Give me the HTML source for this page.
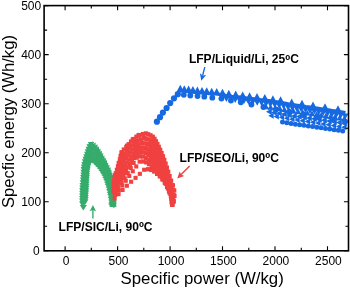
<!DOCTYPE html>
<html><head><meta charset="utf-8"><title>Ragone plot</title>
<style>
html,body{margin:0;padding:0;background:#fff;}
body{width:350px;height:288px;overflow:hidden;}
svg{display:block;}
text{font-family:"Liberation Sans",Arial,Helvetica,sans-serif;fill:#000;}
.t{font-size:12px;}
.l{font-size:16.8px;}
.b{font-size:12.05px;font-weight:bold;}
</style></head><body>
<svg width="350" height="288" viewBox="0 0 350 288">
<rect width="350" height="288" fill="#fff"/>
<g fill="#36ac6c"><path d="M82.2 206.8L85.3 201.3L79.1 201.3Z"/><path d="M82.2 204.2L85.3 198.6L79.1 198.6Z"/><path d="M82.2 201.6L85.3 196.0L79.1 196.0Z"/><path d="M82.2 199.0L85.3 193.4L79.1 193.4Z"/><path d="M82.2 196.3L85.3 190.7L79.1 190.7Z"/><path d="M82.3 193.7L85.4 188.1L79.2 188.1Z"/><path d="M82.4 191.1L85.5 185.5L79.3 185.5Z"/><path d="M82.6 188.4L85.7 182.9L79.5 182.9Z"/><path d="M82.8 185.8L85.9 180.2L79.7 180.2Z"/><path d="M83.0 183.2L86.1 177.6L79.9 177.6Z"/><path d="M83.2 180.6L86.3 175.0L80.1 175.0Z"/><path d="M83.4 177.9L86.5 172.4L80.3 172.4Z"/><path d="M83.5 175.3L86.6 169.7L80.4 169.7Z"/><path d="M83.7 172.7L86.8 167.1L80.6 167.1Z"/><path d="M83.9 170.1L87.0 164.5L80.8 164.5Z"/><path d="M84.4 167.5L87.5 161.9L81.3 161.9Z"/><path d="M84.9 164.9L88.0 159.3L81.8 159.3Z"/><path d="M85.6 162.4L88.7 156.8L82.5 156.8Z"/><path d="M86.3 159.8L89.4 154.3L83.2 154.3Z"/><path d="M87.1 157.3L90.2 151.7L84.0 151.7Z"/><path d="M87.8 154.8L90.9 149.2L84.7 149.2Z"/><path d="M88.6 152.3L91.7 146.7L85.5 146.7Z"/><path d="M89.5 149.8L92.6 144.2L86.4 144.2Z"/><path d="M91.0 147.6L94.1 142.1L87.9 142.1Z"/><path d="M87.7 144.3L93.2 141.2L93.2 147.4Z"/><path d="M90.0 145.5L95.6 142.4L95.6 148.6Z"/><path d="M91.9 147.3L97.5 144.2L97.5 150.4Z"/><path d="M93.5 149.5L99.0 146.4L99.0 152.6Z"/><path d="M94.9 151.7L100.5 148.6L100.5 154.8Z"/><path d="M96.3 153.9L101.9 150.8L101.9 157.0Z"/><path d="M97.6 156.2L103.2 153.1L103.2 159.3Z"/><path d="M98.9 158.5L104.5 155.4L104.5 161.6Z"/><path d="M100.2 160.8L105.8 157.7L105.8 163.9Z"/><path d="M101.5 163.2L107.0 160.1L107.0 166.3Z"/><path d="M102.7 165.5L108.2 162.4L108.2 168.6Z"/><path d="M103.9 167.9L109.4 164.8L109.4 171.0Z"/><path d="M105.0 170.3L110.6 167.2L110.6 173.4Z"/><path d="M105.9 172.8L111.5 169.7L111.5 175.9Z"/><path d="M106.8 175.3L112.4 172.2L112.4 178.4Z"/><path d="M107.6 177.8L113.1 174.7L113.1 180.9Z"/><path d="M108.3 180.3L113.8 177.2L113.8 183.4Z"/><path d="M108.8 182.9L114.4 179.8L114.4 186.0Z"/><path d="M109.3 185.5L114.9 182.4L114.9 188.6Z"/><path d="M109.6 188.2L115.2 185.1L115.2 191.3Z"/><path d="M109.9 190.8L115.5 187.7L115.5 193.9Z"/><path d="M110.2 193.4L115.8 190.3L115.8 196.5Z"/><path d="M110.4 196.1L115.9 193.0L115.9 199.2Z"/><path d="M110.5 198.7L116.1 195.6L116.1 201.8Z"/><path d="M110.6 201.4L116.1 198.3L116.1 204.5Z"/><path d="M110.7 204.0L116.2 200.9L116.2 207.1Z"/><path d="M83.0 206.3L86.1 200.8L79.9 200.8Z"/><path d="M83.0 203.8L86.1 198.2L79.9 198.2Z"/><path d="M83.0 201.3L86.1 195.7L79.9 195.7Z"/><path d="M83.1 198.7L86.2 193.2L80.0 193.2Z"/><path d="M83.1 196.2L86.2 190.6L80.0 190.6Z"/><path d="M83.2 193.7L86.3 188.1L80.1 188.1Z"/><path d="M83.4 191.1L86.5 185.5L80.3 185.5Z"/><path d="M83.5 188.6L86.6 183.0L80.4 183.0Z"/><path d="M83.7 186.1L86.8 180.5L80.6 180.5Z"/><path d="M83.9 183.5L87.0 178.0L80.8 178.0Z"/><path d="M84.1 181.0L87.2 175.4L81.0 175.4Z"/><path d="M84.2 178.5L87.3 172.9L81.1 172.9Z"/><path d="M84.4 175.9L87.5 170.4L81.3 170.4Z"/><path d="M84.6 173.4L87.7 167.8L81.5 167.8Z"/><path d="M84.8 170.9L87.9 165.3L81.7 165.3Z"/><path d="M85.2 168.4L88.3 162.8L82.1 162.8Z"/><path d="M85.8 165.9L88.9 160.3L82.7 160.3Z"/><path d="M86.5 163.5L89.6 157.9L83.4 157.9Z"/><path d="M87.2 161.0L90.3 155.4L84.1 155.4Z"/><path d="M87.9 158.6L91.0 153.0L84.8 153.0Z"/><path d="M88.6 156.2L91.7 150.6L85.5 150.6Z"/><path d="M89.5 153.8L92.6 148.2L86.4 148.2Z"/><path d="M90.9 151.6L94.0 146.1L87.8 146.1Z"/><path d="M90.9 145.0L94.0 150.5L87.8 150.5Z"/><path d="M93.3 146.1L96.4 151.6L90.2 151.6Z"/><path d="M95.3 147.9L98.4 153.5L92.2 153.5Z"/><path d="M97.0 150.1L100.1 155.7L93.9 155.7Z"/><path d="M98.5 152.3L101.6 157.9L95.4 157.9Z"/><path d="M100.0 154.6L103.1 160.2L96.9 160.2Z"/><path d="M101.4 156.9L104.5 162.5L98.3 162.5Z"/><path d="M102.8 159.3L105.9 164.8L99.7 164.8Z"/><path d="M104.1 161.7L107.2 167.2L101.0 167.2Z"/><path d="M105.4 164.1L108.5 169.7L102.3 169.7Z"/><path d="M106.5 166.5L109.6 172.1L103.4 172.1Z"/><path d="M107.7 169.0L110.8 174.6L104.6 174.6Z"/><path d="M108.7 171.5L111.8 177.1L105.6 177.1Z"/><path d="M109.5 174.1L112.6 179.7L106.4 179.7Z"/><path d="M110.3 176.7L113.4 182.3L107.2 182.3Z"/><path d="M111.0 179.3L114.1 184.9L107.9 184.9Z"/><path d="M111.6 182.0L114.7 187.6L108.5 187.6Z"/><path d="M112.1 184.7L115.2 190.2L109.0 190.2Z"/><path d="M112.5 187.3L115.6 192.9L109.4 192.9Z"/><path d="M112.8 190.0L115.9 195.6L109.7 195.6Z"/><path d="M113.1 192.8L116.2 198.3L110.0 198.3Z"/><path d="M113.3 195.5L116.4 201.0L110.2 201.0Z"/><path d="M113.4 198.2L116.5 203.8L110.3 203.8Z"/><path d="M113.5 200.9L116.6 206.5L110.4 206.5Z"/><path d="M83.8 205.8L86.8 200.3L80.7 200.3Z"/><path d="M83.8 203.4L86.9 197.8L80.7 197.8Z"/><path d="M83.9 201.0L87.0 195.4L80.8 195.4Z"/><path d="M84.0 198.5L87.1 193.0L80.9 193.0Z"/><path d="M84.1 196.1L87.2 190.5L81.0 190.5Z"/><path d="M84.2 193.7L87.3 188.1L81.1 188.1Z"/><path d="M84.3 191.2L87.4 185.7L81.2 185.7Z"/><path d="M84.5 188.8L87.6 183.2L81.4 183.2Z"/><path d="M84.6 186.4L87.7 180.8L81.5 180.8Z"/><path d="M84.8 184.0L87.9 178.4L81.7 178.4Z"/><path d="M84.9 181.5L88.0 175.9L81.8 175.9Z"/><path d="M85.1 179.1L88.2 173.5L82.0 173.5Z"/><path d="M85.2 176.7L88.3 171.1L82.1 171.1Z"/><path d="M85.4 174.2L88.5 168.7L82.3 168.7Z"/><path d="M85.7 171.8L88.8 166.2L82.6 166.2Z"/><path d="M86.1 169.4L89.2 163.8L83.0 163.8Z"/><path d="M86.7 167.0L89.8 161.5L83.6 161.5Z"/><path d="M87.3 164.7L90.4 159.1L84.2 159.1Z"/><path d="M87.9 162.3L91.0 156.8L84.8 156.8Z"/><path d="M88.6 160.0L91.7 154.4L85.5 154.4Z"/><path d="M89.5 157.7L92.6 152.2L86.4 152.2Z"/><path d="M90.8 155.6L93.8 150.1L87.7 150.1Z"/><path d="M87.4 152.3L93.0 149.2L93.0 155.4Z"/><path d="M89.9 153.3L95.5 150.2L95.5 156.4Z"/><path d="M91.9 155.0L97.5 151.9L97.5 158.1Z"/><path d="M93.6 157.1L99.2 154.0L99.2 160.2Z"/><path d="M95.2 159.2L100.8 156.1L100.8 162.3Z"/><path d="M96.8 161.4L102.3 158.3L102.3 164.5Z"/><path d="M98.2 163.7L103.8 160.6L103.8 166.8Z"/><path d="M99.6 166.0L105.2 162.9L105.2 169.1Z"/><path d="M100.9 168.4L106.4 165.3L106.4 171.5Z"/><path d="M102.1 170.8L107.6 167.7L107.6 173.9Z"/><path d="M103.2 173.2L108.8 170.1L108.8 176.3Z"/><path d="M104.2 175.7L109.8 172.6L109.8 178.8Z"/><path d="M105.1 178.2L110.7 175.1L110.7 181.3Z"/><path d="M105.9 180.7L111.5 177.6L111.5 183.8Z"/><path d="M106.7 183.3L112.3 180.2L112.3 186.4Z"/><path d="M107.3 185.9L112.9 182.8L112.9 189.0Z"/><path d="M107.9 188.5L113.5 185.4L113.5 191.6Z"/><path d="M108.4 191.2L114.0 188.1L114.0 194.3Z"/><path d="M108.8 193.8L114.3 190.7L114.3 196.9Z"/><path d="M109.1 196.5L114.7 193.4L114.7 199.6Z"/><path d="M109.3 199.1L114.9 196.0L114.9 202.2Z"/><path d="M109.5 201.8L115.1 198.7L115.1 204.9Z"/><path d="M109.7 204.5L115.2 201.4L115.2 207.6Z"/><path d="M84.5 205.3L87.6 199.8L81.4 199.8Z"/><path d="M84.6 203.0L87.7 197.4L81.5 197.4Z"/><path d="M84.8 200.7L87.9 195.1L81.7 195.1Z"/><path d="M84.9 198.4L88.0 192.8L81.8 192.8Z"/><path d="M85.0 196.1L88.1 190.5L81.9 190.5Z"/><path d="M85.1 193.7L88.2 188.2L82.0 188.2Z"/><path d="M85.3 191.4L88.4 185.8L82.2 185.8Z"/><path d="M85.4 189.1L88.5 183.5L82.3 183.5Z"/><path d="M85.5 186.8L88.6 181.2L82.4 181.2Z"/><path d="M85.6 184.5L88.7 178.9L82.5 178.9Z"/><path d="M85.8 182.1L88.9 176.6L82.7 176.6Z"/><path d="M85.9 179.8L89.0 174.2L82.8 174.2Z"/><path d="M86.1 177.5L89.2 171.9L83.0 171.9Z"/><path d="M86.3 175.2L89.4 169.6L83.2 169.6Z"/><path d="M86.5 172.9L89.6 167.3L83.4 167.3Z"/><path d="M86.9 170.6L90.0 165.0L83.8 165.0Z"/><path d="M87.4 168.3L90.5 162.7L84.3 162.7Z"/><path d="M88.0 166.1L91.1 160.5L84.9 160.5Z"/><path d="M88.7 163.8L91.8 158.3L85.6 158.3Z"/><path d="M89.5 161.7L92.6 156.1L86.4 156.1Z"/><path d="M90.6 159.6L93.7 154.1L87.5 154.1Z"/><path d="M90.6 153.0L93.7 158.5L87.5 158.5Z"/><path d="M93.1 153.8L96.2 159.4L90.0 159.4Z"/><path d="M95.2 155.4L98.3 161.0L92.1 161.0Z"/><path d="M97.0 157.4L100.1 163.0L93.9 163.0Z"/><path d="M98.6 159.4L101.7 165.0L95.5 165.0Z"/><path d="M100.2 161.6L103.3 167.1L97.1 167.1Z"/><path d="M101.7 163.7L104.8 169.3L98.6 169.3Z"/><path d="M103.0 166.0L106.1 171.6L99.9 171.6Z"/><path d="M104.3 168.3L107.4 173.9L101.2 173.9Z"/><path d="M105.4 170.7L108.5 176.3L102.3 176.3Z"/><path d="M106.5 173.1L109.6 178.7L103.4 178.7Z"/><path d="M107.5 175.6L110.6 181.2L104.4 181.2Z"/><path d="M108.3 178.1L111.4 183.7L105.2 183.7Z"/><path d="M109.0 180.6L112.1 186.2L105.9 186.2Z"/><path d="M109.7 183.2L112.8 188.7L106.6 188.7Z"/><path d="M110.3 185.7L113.4 191.3L107.2 191.3Z"/><path d="M110.9 188.3L114.0 193.9L107.8 193.9Z"/><path d="M111.3 190.9L114.4 196.5L108.2 196.5Z"/><path d="M111.7 193.5L114.8 199.1L108.6 199.1Z"/><path d="M112.1 196.1L115.2 201.7L109.0 201.7Z"/><path d="M112.3 198.8L115.4 204.3L109.2 204.3Z"/><path d="M112.5 201.4L115.6 207.0L109.4 207.0Z"/><path d="M85.3 204.8L88.4 199.3L82.2 199.3Z"/><path d="M85.5 202.7L88.6 197.1L82.4 197.1Z"/><path d="M85.6 200.5L88.7 194.9L82.5 194.9Z"/><path d="M85.8 198.3L88.9 192.7L82.7 192.7Z"/><path d="M86.0 196.1L89.1 190.5L82.9 190.5Z"/><path d="M86.1 193.9L89.2 188.3L83.0 188.3Z"/><path d="M86.2 191.7L89.3 186.1L83.1 186.1Z"/><path d="M86.3 189.5L89.4 183.9L83.2 183.9Z"/><path d="M86.4 187.3L89.5 181.7L83.3 181.7Z"/><path d="M86.5 185.1L89.6 179.5L83.4 179.5Z"/><path d="M86.6 182.9L89.7 177.3L83.5 177.3Z"/><path d="M86.8 180.7L89.9 175.1L83.7 175.1Z"/><path d="M86.9 178.5L90.0 172.9L83.8 172.9Z"/><path d="M87.1 176.3L90.2 170.7L84.0 170.7Z"/><path d="M87.3 174.1L90.4 168.5L84.2 168.5Z"/><path d="M87.7 171.9L90.8 166.4L84.6 166.4Z"/><path d="M88.1 169.8L91.2 164.2L85.0 164.2Z"/><path d="M88.7 167.7L91.8 162.1L85.6 162.1Z"/><path d="M89.5 165.6L92.6 160.0L86.4 160.0Z"/><path d="M90.5 163.6L93.6 158.1L87.4 158.1Z"/><path d="M87.2 160.3L92.7 157.2L92.7 163.4Z"/><path d="M89.6 161.1L95.2 158.0L95.2 164.2Z"/><path d="M91.8 162.5L97.3 159.4L97.3 165.6Z"/><path d="M93.6 164.4L99.2 161.3L99.2 167.5Z"/><path d="M95.3 166.3L100.9 163.2L100.9 169.4Z"/><path d="M96.9 168.3L102.5 165.2L102.5 171.4Z"/><path d="M98.4 170.5L104.0 167.4L104.0 173.6Z"/><path d="M99.8 172.7L105.4 169.6L105.4 175.8Z"/><path d="M101.0 175.0L106.6 171.9L106.6 178.1Z"/><path d="M102.1 177.3L107.7 174.2L107.7 180.4Z"/><path d="M103.1 179.7L108.6 176.6L108.6 182.8Z"/><path d="M104.0 182.2L109.5 179.1L109.5 185.3Z"/><path d="M104.7 184.6L110.3 181.5L110.3 187.7Z"/><path d="M105.4 187.1L111.0 184.0L111.0 190.2Z"/><path d="M106.0 189.7L111.6 186.6L111.6 192.8Z"/><path d="M106.6 192.2L112.2 189.1L112.2 195.3Z"/><path d="M107.1 194.7L112.7 191.6L112.7 197.8Z"/><path d="M107.6 197.3L113.1 194.2L113.1 200.4Z"/><path d="M108.0 199.9L113.6 196.8L113.6 203.0Z"/><path d="M108.4 202.4L113.9 199.3L113.9 205.5Z"/><path d="M108.7 205.0L114.2 201.9L114.2 208.1Z"/><path d="M79.8 205.0L86.9 205.0L83.3 210.5Z"/><path d="M108.1 204.0L114.4 200.5L114.4 207.5Z"/></g>
<g fill="#f04141"><rect x="112.5" y="196.4" width="4.1" height="4.1"/><rect x="116.5" y="192.1" width="4.1" height="4.1"/><rect x="120.5" y="187.9" width="4.1" height="4.1"/><rect x="124.8" y="183.7" width="4.1" height="4.1"/><rect x="129.1" y="179.7" width="4.1" height="4.1"/><rect x="133.5" y="175.8" width="4.1" height="4.1"/><rect x="137.8" y="171.8" width="4.1" height="4.1"/><rect x="142.1" y="167.7" width="4.1" height="4.1"/><rect x="146.0" y="167.1" width="4.3" height="4.3"/><rect x="149.1" y="167.8" width="4.3" height="4.3"/><rect x="152.1" y="169.4" width="4.3" height="4.3"/><rect x="155.0" y="171.7" width="4.3" height="4.3"/><rect x="157.8" y="174.3" width="4.3" height="4.3"/><rect x="160.5" y="177.4" width="4.3" height="4.3"/><rect x="163.1" y="180.9" width="4.3" height="4.3"/><rect x="165.5" y="184.9" width="4.3" height="4.3"/><rect x="167.6" y="189.4" width="4.3" height="4.3"/><rect x="169.1" y="194.4" width="4.3" height="4.3"/><rect x="169.7" y="200.0" width="4.3" height="4.3"/><rect x="113.2" y="192.9" width="4.1" height="4.1"/><rect x="116.7" y="188.2" width="4.1" height="4.1"/><rect x="120.2" y="183.4" width="4.1" height="4.1"/><rect x="123.7" y="178.7" width="4.1" height="4.1"/><rect x="127.2" y="173.9" width="4.1" height="4.1"/><rect x="130.7" y="169.2" width="4.1" height="4.1"/><rect x="134.2" y="164.4" width="4.1" height="4.1"/><rect x="137.6" y="159.6" width="4.1" height="4.1"/><rect x="141.1" y="159.3" width="4.3" height="4.3"/><rect x="144.1" y="160.2" width="4.3" height="4.3"/><rect x="146.9" y="162.0" width="4.3" height="4.3"/><rect x="149.6" y="164.2" width="4.3" height="4.3"/><rect x="152.3" y="166.8" width="4.3" height="4.3"/><rect x="155.0" y="169.6" width="4.3" height="4.3"/><rect x="157.7" y="172.8" width="4.3" height="4.3"/><rect x="160.2" y="176.4" width="4.3" height="4.3"/><rect x="162.6" y="180.3" width="4.3" height="4.3"/><rect x="164.9" y="184.6" width="4.3" height="4.3"/><rect x="166.9" y="189.3" width="4.3" height="4.3"/><rect x="168.8" y="194.3" width="4.3" height="4.3"/><rect x="169.6" y="200.0" width="4.3" height="4.3"/><rect x="113.0" y="190.9" width="4.1" height="4.1"/><rect x="116.2" y="186.1" width="4.1" height="4.1"/><rect x="119.5" y="181.1" width="4.1" height="4.1"/><rect x="122.7" y="176.2" width="4.1" height="4.1"/><rect x="125.7" y="171.1" width="4.1" height="4.1"/><rect x="128.7" y="166.0" width="4.1" height="4.1"/><rect x="131.6" y="160.9" width="4.1" height="4.1"/><rect x="134.5" y="155.7" width="4.1" height="4.1"/><rect x="137.8" y="154.3" width="4.3" height="4.3"/><rect x="140.9" y="154.4" width="4.3" height="4.3"/><rect x="143.9" y="155.8" width="4.3" height="4.3"/><rect x="146.7" y="157.9" width="4.3" height="4.3"/><rect x="149.4" y="160.3" width="4.3" height="4.3"/><rect x="152.0" y="163.0" width="4.3" height="4.3"/><rect x="154.5" y="166.1" width="4.3" height="4.3"/><rect x="156.9" y="169.6" width="4.3" height="4.3"/><rect x="159.2" y="173.3" width="4.3" height="4.3"/><rect x="161.5" y="177.3" width="4.3" height="4.3"/><rect x="163.8" y="181.6" width="4.3" height="4.3"/><rect x="165.8" y="186.3" width="4.3" height="4.3"/><rect x="167.7" y="191.3" width="4.3" height="4.3"/><rect x="169.2" y="196.6" width="4.3" height="4.3"/><rect x="170.0" y="202.4" width="4.3" height="4.3"/><rect x="112.6" y="190.5" width="4.3" height="4.3"/><rect x="114.0" y="187.2" width="4.3" height="4.3"/><rect x="115.6" y="183.9" width="4.3" height="4.3"/><rect x="117.3" y="180.7" width="4.3" height="4.3"/><rect x="119.0" y="177.6" width="4.3" height="4.3"/><rect x="120.7" y="174.4" width="4.3" height="4.3"/><rect x="122.3" y="171.2" width="4.3" height="4.3"/><rect x="123.9" y="167.9" width="4.3" height="4.3"/><rect x="125.7" y="164.8" width="4.3" height="4.3"/><rect x="127.7" y="161.9" width="4.3" height="4.3"/><rect x="129.7" y="158.8" width="4.3" height="4.3"/><rect x="131.7" y="155.9" width="4.3" height="4.3"/><rect x="134.0" y="153.0" width="4.3" height="4.3"/><rect x="136.4" y="150.4" width="4.3" height="4.3"/><rect x="136.7" y="150.2" width="4.3" height="4.3"/><rect x="139.0" y="150.0" width="4.3" height="4.3"/><rect x="141.6" y="150.1" width="4.3" height="4.3"/><rect x="144.0" y="151.1" width="4.3" height="4.3"/><rect x="146.3" y="152.7" width="4.3" height="4.3"/><rect x="148.5" y="154.8" width="4.3" height="4.3"/><rect x="150.7" y="157.1" width="4.3" height="4.3"/><rect x="152.8" y="159.6" width="4.3" height="4.3"/><rect x="154.9" y="162.4" width="4.3" height="4.3"/><rect x="156.9" y="165.5" width="4.3" height="4.3"/><rect x="158.9" y="169.0" width="4.3" height="4.3"/><rect x="160.8" y="172.6" width="4.3" height="4.3"/><rect x="162.8" y="176.5" width="4.3" height="4.3"/><rect x="164.7" y="180.7" width="4.3" height="4.3"/><rect x="166.6" y="185.2" width="4.3" height="4.3"/><rect x="168.3" y="190.1" width="4.3" height="4.3"/><rect x="169.6" y="195.4" width="4.3" height="4.3"/><rect x="170.2" y="201.1" width="4.3" height="4.3"/><rect x="112.3" y="190.0" width="4.3" height="4.3"/><rect x="113.3" y="186.6" width="4.3" height="4.3"/><rect x="114.4" y="183.2" width="4.3" height="4.3"/><rect x="115.7" y="179.8" width="4.3" height="4.3"/><rect x="117.2" y="176.5" width="4.3" height="4.3"/><rect x="118.7" y="173.3" width="4.3" height="4.3"/><rect x="120.2" y="170.0" width="4.3" height="4.3"/><rect x="121.6" y="166.7" width="4.3" height="4.3"/><rect x="123.0" y="163.3" width="4.3" height="4.3"/><rect x="124.9" y="160.3" width="4.3" height="4.3"/><rect x="127.0" y="157.4" width="4.3" height="4.3"/><rect x="129.1" y="154.5" width="4.3" height="4.3"/><rect x="131.3" y="151.7" width="4.3" height="4.3"/><rect x="133.7" y="149.0" width="4.3" height="4.3"/><rect x="136.6" y="146.7" width="4.3" height="4.3"/><rect x="138.5" y="145.5" width="4.3" height="4.3"/><rect x="140.8" y="145.6" width="4.3" height="4.3"/><rect x="143.3" y="145.9" width="4.3" height="4.3"/><rect x="145.7" y="147.1" width="4.3" height="4.3"/><rect x="147.8" y="149.0" width="4.3" height="4.3"/><rect x="149.8" y="151.1" width="4.3" height="4.3"/><rect x="151.8" y="153.6" width="4.3" height="4.3"/><rect x="153.7" y="156.2" width="4.3" height="4.3"/><rect x="155.6" y="159.1" width="4.3" height="4.3"/><rect x="157.5" y="162.2" width="4.3" height="4.3"/><rect x="159.3" y="165.6" width="4.3" height="4.3"/><rect x="161.1" y="169.3" width="4.3" height="4.3"/><rect x="162.8" y="173.2" width="4.3" height="4.3"/><rect x="164.6" y="177.3" width="4.3" height="4.3"/><rect x="166.4" y="181.7" width="4.3" height="4.3"/><rect x="168.2" y="186.4" width="4.3" height="4.3"/><rect x="169.7" y="191.4" width="4.3" height="4.3"/><rect x="170.5" y="196.9" width="4.3" height="4.3"/><rect x="170.2" y="202.7" width="4.3" height="4.3"/><rect x="112.0" y="189.7" width="4.3" height="4.3"/><rect x="112.6" y="186.1" width="4.3" height="4.3"/><rect x="113.4" y="182.6" width="4.3" height="4.3"/><rect x="114.4" y="179.1" width="4.3" height="4.3"/><rect x="115.6" y="175.7" width="4.3" height="4.3"/><rect x="116.9" y="172.4" width="4.3" height="4.3"/><rect x="118.3" y="169.1" width="4.3" height="4.3"/><rect x="119.5" y="165.7" width="4.3" height="4.3"/><rect x="120.6" y="162.3" width="4.3" height="4.3"/><rect x="121.9" y="158.9" width="4.3" height="4.3"/><rect x="123.9" y="155.9" width="4.3" height="4.3"/><rect x="126.2" y="153.1" width="4.3" height="4.3"/><rect x="128.4" y="150.3" width="4.3" height="4.3"/><rect x="130.7" y="147.5" width="4.3" height="4.3"/><rect x="133.2" y="144.9" width="4.3" height="4.3"/><rect x="136.1" y="142.8" width="4.3" height="4.3"/><rect x="139.3" y="141.2" width="4.3" height="4.3"/><rect x="140.2" y="140.8" width="4.3" height="4.3"/><rect x="142.6" y="141.2" width="4.3" height="4.3"/><rect x="145.1" y="141.7" width="4.3" height="4.3"/><rect x="147.4" y="143.0" width="4.3" height="4.3"/><rect x="149.3" y="145.0" width="4.3" height="4.3"/><rect x="151.1" y="147.3" width="4.3" height="4.3"/><rect x="152.9" y="149.9" width="4.3" height="4.3"/><rect x="154.7" y="152.6" width="4.3" height="4.3"/><rect x="156.4" y="155.5" width="4.3" height="4.3"/><rect x="158.1" y="158.7" width="4.3" height="4.3"/><rect x="159.8" y="162.0" width="4.3" height="4.3"/><rect x="161.3" y="165.7" width="4.3" height="4.3"/><rect x="162.9" y="169.5" width="4.3" height="4.3"/><rect x="164.6" y="173.6" width="4.3" height="4.3"/><rect x="166.2" y="177.9" width="4.3" height="4.3"/><rect x="168.0" y="182.4" width="4.3" height="4.3"/><rect x="169.6" y="187.2" width="4.3" height="4.3"/><rect x="170.8" y="192.5" width="4.3" height="4.3"/><rect x="171.0" y="198.1" width="4.3" height="4.3"/><rect x="111.7" y="189.2" width="4.3" height="4.3"/><rect x="112.0" y="185.7" width="4.3" height="4.3"/><rect x="112.4" y="182.1" width="4.3" height="4.3"/><rect x="113.1" y="178.6" width="4.3" height="4.3"/><rect x="114.1" y="175.1" width="4.3" height="4.3"/><rect x="115.3" y="171.7" width="4.3" height="4.3"/><rect x="116.5" y="168.3" width="4.3" height="4.3"/><rect x="117.7" y="164.9" width="4.3" height="4.3"/><rect x="118.7" y="161.5" width="4.3" height="4.3"/><rect x="119.6" y="158.0" width="4.3" height="4.3"/><rect x="120.9" y="154.6" width="4.3" height="4.3"/><rect x="122.8" y="151.6" width="4.3" height="4.3"/><rect x="125.2" y="148.9" width="4.3" height="4.3"/><rect x="127.5" y="146.2" width="4.3" height="4.3"/><rect x="129.9" y="143.4" width="4.3" height="4.3"/><rect x="132.4" y="140.9" width="4.3" height="4.3"/><rect x="135.2" y="138.7" width="4.3" height="4.3"/><rect x="138.5" y="137.2" width="4.3" height="4.3"/><rect x="141.9" y="136.1" width="4.3" height="4.3"/><rect x="142.1" y="136.0" width="4.3" height="4.3"/><rect x="144.4" y="136.7" width="4.3" height="4.3"/><rect x="146.8" y="137.5" width="4.3" height="4.3"/><rect x="149.0" y="138.9" width="4.3" height="4.3"/><rect x="150.8" y="140.9" width="4.3" height="4.3"/><rect x="152.4" y="143.3" width="4.3" height="4.3"/><rect x="154.0" y="146.0" width="4.3" height="4.3"/><rect x="155.6" y="148.7" width="4.3" height="4.3"/><rect x="157.2" y="151.7" width="4.3" height="4.3"/><rect x="158.7" y="154.9" width="4.3" height="4.3"/><rect x="160.2" y="158.2" width="4.3" height="4.3"/><rect x="161.7" y="161.8" width="4.3" height="4.3"/><rect x="163.1" y="165.6" width="4.3" height="4.3"/><rect x="164.6" y="169.7" width="4.3" height="4.3"/><rect x="166.0" y="173.9" width="4.3" height="4.3"/><rect x="167.6" y="178.3" width="4.3" height="4.3"/><rect x="169.4" y="182.9" width="4.3" height="4.3"/><rect x="170.9" y="187.9" width="4.3" height="4.3"/><rect x="171.7" y="193.2" width="4.3" height="4.3"/><rect x="171.3" y="198.9" width="4.3" height="4.3"/><rect x="111.4" y="188.8" width="4.3" height="4.3"/><rect x="111.5" y="185.3" width="4.3" height="4.3"/><rect x="111.6" y="181.7" width="4.3" height="4.3"/><rect x="112.0" y="178.1" width="4.3" height="4.3"/><rect x="112.7" y="174.6" width="4.3" height="4.3"/><rect x="113.7" y="171.1" width="4.3" height="4.3"/><rect x="114.8" y="167.7" width="4.3" height="4.3"/><rect x="115.9" y="164.2" width="4.3" height="4.3"/><rect x="116.9" y="160.8" width="4.3" height="4.3"/><rect x="117.8" y="157.3" width="4.3" height="4.3"/><rect x="118.5" y="153.8" width="4.3" height="4.3"/><rect x="119.7" y="150.4" width="4.3" height="4.3"/><rect x="121.7" y="147.4" width="4.3" height="4.3"/><rect x="124.2" y="144.8" width="4.3" height="4.3"/><rect x="126.6" y="142.1" width="4.3" height="4.3"/><rect x="128.9" y="139.4" width="4.3" height="4.3"/><rect x="131.5" y="136.9" width="4.3" height="4.3"/><rect x="134.3" y="134.6" width="4.3" height="4.3"/><rect x="137.4" y="132.9" width="4.3" height="4.3"/><rect x="140.9" y="132.0" width="4.3" height="4.3"/><rect x="143.8" y="131.3" width="4.3" height="4.3"/><rect x="146.1" y="132.2" width="4.3" height="4.3"/><rect x="148.4" y="133.2" width="4.3" height="4.3"/><rect x="150.6" y="134.6" width="4.3" height="4.3"/><rect x="152.3" y="136.7" width="4.3" height="4.3"/><rect x="153.8" y="139.2" width="4.3" height="4.3"/><rect x="155.2" y="141.9" width="4.3" height="4.3"/><rect x="156.6" y="144.7" width="4.3" height="4.3"/><rect x="158.0" y="147.7" width="4.3" height="4.3"/><rect x="159.4" y="150.9" width="4.3" height="4.3"/><rect x="160.8" y="154.2" width="4.3" height="4.3"/><rect x="162.1" y="157.8" width="4.3" height="4.3"/><rect x="163.4" y="161.5" width="4.3" height="4.3"/><rect x="164.7" y="165.5" width="4.3" height="4.3"/><rect x="166.0" y="169.6" width="4.3" height="4.3"/><rect x="167.4" y="174.0" width="4.3" height="4.3"/><rect x="168.9" y="178.5" width="4.3" height="4.3"/><rect x="170.7" y="183.2" width="4.3" height="4.3"/><rect x="172.0" y="188.3" width="4.3" height="4.3"/><rect x="172.3" y="193.7" width="4.3" height="4.3"/><rect x="171.5" y="199.4" width="4.3" height="4.3"/><rect x="112.9" y="173.1" width="4.6" height="4.6"/><rect x="116.7" y="161.0" width="4.6" height="4.6"/><rect x="119.5" y="150.3" width="4.6" height="4.6"/><rect x="125.0" y="143.6" width="4.6" height="4.6"/><rect x="130.7" y="137.3" width="4.6" height="4.6"/><rect x="136.5" y="133.0" width="4.6" height="4.6"/></g>
<g fill="#1669e0"><circle cx="156.9" cy="121.7" r="3.1"/><circle cx="160.0" cy="117.2" r="3.1"/><circle cx="162.9" cy="112.6" r="3.1"/><circle cx="166.6" cy="108.0" r="3.1"/><circle cx="170.2" cy="103.1" r="3.1"/><circle cx="174.0" cy="98.3" r="3.1"/><circle cx="177.8" cy="94.2" r="3.1"/><circle cx="183.8" cy="94.8" r="2.9"/><circle cx="190.3" cy="95.5" r="2.9"/><circle cx="197.5" cy="96.1" r="2.9"/><circle cx="204.3" cy="96.7" r="2.9"/><circle cx="212.3" cy="97.7" r="2.9"/><circle cx="221.4" cy="98.6" r="2.9"/><circle cx="230.9" cy="100.6" r="2.9"/><circle cx="240.8" cy="102.3" r="2.9"/><circle cx="251.4" cy="104.5" r="2.9"/><circle cx="263.4" cy="107.0" r="2.9"/><circle cx="276.0" cy="109.5" r="2.9"/><circle cx="289.5" cy="112.0" r="2.9"/><circle cx="303.5" cy="114.5" r="2.9"/><circle cx="318.0" cy="117.0" r="2.9"/><circle cx="333.0" cy="119.5" r="2.9"/><circle cx="345.0" cy="121.5" r="2.9"/><path d="M180.3 84.8L183.6 91.0L177.0 91.0Z"/><path d="M184.3 85.2L187.6 91.4L181.0 91.4Z"/><path d="M188.6 85.6L191.9 91.8L185.3 91.8Z"/><path d="M192.9 86.1L196.2 92.3L189.6 92.3Z"/><path d="M197.4 86.5L200.7 92.7L194.1 92.7Z"/><path d="M202.0 86.9L205.3 93.1L198.7 93.1Z"/><path d="M206.7 87.3L210.0 93.5L203.4 93.5Z"/><path d="M211.7 87.7L215.0 93.9L208.4 93.9Z"/><path d="M216.7 88.0L220.0 94.2L213.4 94.2Z"/><path d="M222.5 88.8L225.8 95.0L219.2 95.0Z"/><path d="M228.8 89.8L232.1 96.0L225.5 96.0Z"/><path d="M235.7 90.6L239.0 96.8L232.4 96.8Z"/><path d="M242.7 91.4L246.0 97.6L239.4 97.6Z"/><path d="M249.6 92.2L252.9 98.4L246.3 98.4Z"/><path d="M257.0 93.0L260.3 99.2L253.7 99.2Z"/><path d="M264.8 94.1L268.1 100.3L261.5 100.3Z"/><path d="M272.9 95.2L276.2 101.4L269.6 101.4Z"/><path d="M280.6 96.2L283.9 102.4L277.3 102.4Z"/><path d="M291.7 98.5L295.0 104.7L288.4 104.7Z"/><path d="M302.0 99.8L305.3 106.0L298.7 106.0Z"/><path d="M313.0 101.5L316.3 107.7L309.7 107.7Z"/><path d="M325.0 103.3L328.3 109.5L321.7 109.5Z"/><path d="M338.0 105.3L341.3 111.5L334.7 111.5Z"/><path d="M178.0 90.9L180.8 91.0L183.7 91.3L186.5 91.5L189.4 91.8L192.2 92.1L195.0 92.4L197.9 92.6L200.7 92.9L203.6 93.2L206.4 93.4L209.2 93.6L212.1 93.8L214.9 94.0L217.7 94.2L220.6 94.6L223.4 95.0L226.3 95.5L229.1 95.9L231.9 96.3L234.8 96.6L237.6 96.9L240.5 97.2L243.3 97.5L246.1 97.9L249.0 98.2L251.8 98.5L254.7 98.8L257.5 99.2L260.3 99.6L263.2 99.9L266.0 100.3L268.8 100.7L271.7 101.1L274.5 101.5L277.4 101.9L280.2 102.2L283.0 102.8L285.9 103.4L288.7 104.0L291.6 104.6L294.4 104.9L297.2 105.3L300.1 105.7L302.9 106.0L305.8 106.5L308.6 106.9L311.4 107.4L314.3 107.8L317.1 108.2L319.9 108.6L322.8 109.1L325.6 109.5L328.5 109.9L331.3 110.4L334.1 110.8L337.0 111.2L339.8 111.7L342.7 112.1L345.5 112.6" fill="none" stroke="#1669e0" stroke-width="3.2"/><path d="M222.0 101.2L225.3 95.2L218.7 95.2Z"/><path d="M226.4 101.9L229.7 96.0L223.1 96.0Z"/><path d="M230.8 102.5L234.1 96.6L227.5 96.6Z"/><path d="M235.2 103.1L238.5 97.1L231.9 97.1Z"/><path d="M239.6 103.6L242.9 97.6L236.3 97.6Z"/><path d="M244.0 104.1L247.3 98.2L240.7 98.2Z"/><path d="M248.4 104.6L251.7 98.7L245.1 98.7Z"/><path d="M252.8 105.1L256.1 99.2L249.5 99.2Z"/><path d="M257.2 105.7L260.5 99.7L253.9 99.7Z"/><path d="M261.6 106.3L264.9 100.3L258.3 100.3Z"/><path d="M266.0 106.9L269.3 101.0L262.7 101.0Z"/><path d="M270.4 107.5L273.7 101.6L267.1 101.6Z"/><path d="M274.8 108.1L278.1 102.2L271.5 102.2Z"/><path d="M279.2 108.8L282.5 102.8L275.9 102.8Z"/><path d="M283.6 109.6L286.9 103.6L280.3 103.6Z"/><path d="M288.0 110.5L291.3 104.6L284.7 104.6Z"/><path d="M292.4 111.4L295.7 105.5L289.1 105.5Z"/><path d="M296.8 112.0L300.1 106.0L293.5 106.0Z"/><path d="M301.2 112.5L304.5 106.6L297.9 106.6Z"/><path d="M305.6 113.2L308.9 107.3L302.3 107.3Z"/><path d="M310.0 113.9L313.3 108.0L306.7 108.0Z"/><path d="M314.4 114.6L317.7 108.7L311.1 108.7Z"/><path d="M318.8 115.3L322.1 109.4L315.5 109.4Z"/><path d="M323.2 116.0L326.5 110.0L319.9 110.0Z"/><path d="M327.6 116.7L330.9 110.7L324.3 110.7Z"/><path d="M332.0 117.4L335.3 111.4L328.7 111.4Z"/><path d="M336.4 118.1L339.7 112.1L333.1 112.1Z"/><path d="M340.8 118.8L344.1 112.8L337.5 112.8Z"/><path d="M345.2 119.5L348.5 113.6L341.9 113.6Z"/><path d="M266.0 103.5L269.2 109.2L262.8 109.2Z"/><path d="M270.6 104.1L273.8 109.8L267.4 109.8Z"/><path d="M275.2 104.7L278.4 110.5L272.0 110.5Z"/><path d="M279.8 105.3L283.0 111.1L276.6 111.1Z"/><path d="M284.4 106.2L287.6 112.0L281.2 112.0Z"/><path d="M289.0 107.2L292.2 112.9L285.8 112.9Z"/><path d="M293.6 108.0L296.8 113.7L290.4 113.7Z"/><path d="M298.2 108.6L301.4 114.3L295.0 114.3Z"/><path d="M302.8 109.2L306.0 114.9L299.6 114.9Z"/><path d="M307.4 109.9L310.6 115.6L304.2 115.6Z"/><path d="M312.0 110.6L315.2 116.3L308.8 116.3Z"/><path d="M316.6 111.3L319.8 117.0L313.4 117.0Z"/><path d="M321.2 112.0L324.4 117.7L318.0 117.7Z"/><path d="M325.8 112.7L329.0 118.4L322.6 118.4Z"/><path d="M330.4 113.4L333.6 119.1L327.2 119.1Z"/><path d="M335.0 114.1L338.2 119.8L331.8 119.8Z"/><path d="M339.6 114.8L342.8 120.6L336.4 120.6Z"/><path d="M344.2 115.5L347.4 121.3L341.0 121.3Z"/><path d="M266.0 111.8L271.8 108.6L271.8 115.0Z"/><path d="M271.0 112.5L276.8 109.3L276.8 115.7Z"/><path d="M276.0 113.2L281.8 110.0L281.8 116.4Z"/><path d="M281.0 114.1L286.8 110.9L286.8 117.3Z"/><path d="M286.0 115.1L291.8 111.9L291.8 118.3Z"/><path d="M291.0 116.0L296.8 112.8L296.8 119.2Z"/><path d="M296.0 116.6L301.8 113.4L301.8 119.8Z"/><path d="M301.0 117.3L306.8 114.1L306.8 120.5Z"/><path d="M306.0 118.1L311.8 114.9L311.8 121.3Z"/><path d="M311.0 118.8L316.8 115.6L316.8 122.0Z"/><path d="M316.0 119.6L321.8 116.4L321.8 122.8Z"/><path d="M321.0 120.3L326.8 117.1L326.8 123.5Z"/><path d="M326.0 121.1L331.8 117.9L331.8 124.3Z"/><path d="M331.0 121.9L336.8 118.7L336.8 125.1Z"/><path d="M336.0 122.6L341.8 119.4L341.8 125.8Z"/><path d="M341.0 123.4L346.8 120.2L346.8 126.6Z"/><path d="M268.3 115.7L273.7 112.7L273.7 118.7Z"/><path d="M273.5 116.4L278.9 113.4L278.9 119.4Z"/><path d="M278.7 117.2L284.1 114.2L284.1 120.2Z"/><path d="M283.9 118.3L289.3 115.3L289.3 121.3Z"/><path d="M289.1 119.3L294.5 116.3L294.5 122.3Z"/><path d="M294.3 120.0L299.7 117.0L299.7 123.0Z"/><path d="M299.5 120.7L304.9 117.7L304.9 123.7Z"/><path d="M304.7 121.5L310.1 118.5L310.1 124.5Z"/><path d="M309.9 122.3L315.3 119.3L315.3 125.3Z"/><path d="M315.1 123.1L320.5 120.1L320.5 126.1Z"/><path d="M320.3 123.9L325.7 120.9L325.7 126.9Z"/><path d="M325.5 124.7L330.9 121.7L330.9 127.7Z"/><path d="M330.7 125.5L336.1 122.5L336.1 128.5Z"/><path d="M335.9 126.4L341.3 123.4L341.3 129.4Z"/><path d="M341.1 127.2L346.5 124.2L346.5 130.2Z"/><circle cx="282.5" cy="121.9" r="2.5"/><circle cx="286.8" cy="122.8" r="2.5"/><circle cx="291.1" cy="123.6" r="2.5"/><circle cx="295.4" cy="124.2" r="2.5"/><circle cx="299.7" cy="124.7" r="2.5"/><circle cx="304.0" cy="125.3" r="2.5"/><circle cx="308.3" cy="125.9" r="2.5"/><circle cx="312.6" cy="126.5" r="2.5"/><circle cx="316.9" cy="127.2" r="2.5"/><circle cx="321.2" cy="127.8" r="2.5"/><circle cx="325.5" cy="128.4" r="2.5"/><circle cx="329.8" cy="129.0" r="2.5"/><circle cx="334.1" cy="129.7" r="2.5"/><circle cx="338.4" cy="130.3" r="2.5"/><circle cx="342.7" cy="131.0" r="2.5"/></g>
<g><rect x="44.1" y="5.6" width="304.4" height="245.2" fill="none" stroke="#000" stroke-width="1.6"/><path d="M65.1 250.8v-4.6M65.1 5.6v4.6M117.6 250.8v-4.6M117.6 5.6v4.6M170.1 250.8v-4.6M170.1 5.6v4.6M222.5 250.8v-4.6M222.5 5.6v4.6M275.0 250.8v-4.6M275.0 5.6v4.6M327.5 250.8v-4.6M327.5 5.6v4.6M91.3 250.8v-3M91.3 5.6v3M143.8 250.8v-3M143.8 5.6v3M196.3 250.8v-3M196.3 5.6v3M248.8 250.8v-3M248.8 5.6v3M301.3 250.8v-3M301.3 5.6v3M44.1 250.8h4.6M348.5 250.8h-4.6M44.1 201.8h4.6M348.5 201.8h-4.6M44.1 152.7h4.6M348.5 152.7h-4.6M44.1 103.7h4.6M348.5 103.7h-4.6M44.1 54.6h4.6M348.5 54.6h-4.6M44.1 5.6h4.6M348.5 5.6h-4.6M44.1 226.3h3M348.5 226.3h-3M44.1 177.2h3M348.5 177.2h-3M44.1 128.2h3M348.5 128.2h-3M44.1 79.2h3M348.5 79.2h-3M44.1 30.1h3M348.5 30.1h-3" stroke="#000" stroke-width="1.1" fill="none"/></g>
<g><path d="M204.8 67.2L202.7 75.4" stroke="#1669e0" stroke-width="1.4" fill="none"/><path d="M201.3 80.7L199.9 73.3L202.7 75.4L206.1 74.9Z" fill="#1669e0"/><path d="M189.7 166.0L181.1 174.6" stroke="#f04141" stroke-width="1.4" fill="none"/><path d="M177.2 178.5L179.7 171.4L181.1 174.6L184.3 176.0Z" fill="#f04141"/><path d="M92.9 218.4L92.9 210.0" stroke="#36ac6c" stroke-width="1.4" fill="none"/><path d="M92.9 205.0L96.1 211.3L92.9 210.0L89.7 211.3Z" fill="#36ac6c"/></g>
<g><text x="66.0" y="265.3" text-anchor="middle" class="t">0</text><text x="118.5" y="265.3" text-anchor="middle" class="t">500</text><text x="171.0" y="265.3" text-anchor="middle" class="t">1000</text><text x="223.4" y="265.3" text-anchor="middle" class="t">1500</text><text x="275.9" y="265.3" text-anchor="middle" class="t">2000</text><text x="328.4" y="265.3" text-anchor="middle" class="t">2500</text><text x="39.8" y="255.1" text-anchor="end" class="t">0</text><text x="41.2" y="206.1" text-anchor="end" class="t">100</text><text x="41.2" y="157.0" text-anchor="end" class="t">200</text><text x="41.2" y="108.0" text-anchor="end" class="t">300</text><text x="41.2" y="58.9" text-anchor="end" class="t">400</text><text x="41.2" y="9.9" text-anchor="end" class="t">500</text><text x="202.2" y="283.8" text-anchor="middle" class="l">Specific power (W/kg)</text><text transform="translate(13.9 208.1) rotate(-90)" class="l" style="font-size:16.67px">Specfic energy (Wh/kg)</text><text x="188.9" y="63.4" class="b">LFP/Liquid/Li, 25<tspan dy="1.1" style="font-size:13.4px">º</tspan><tspan dy="-1.1">C</tspan></text><text x="179.6" y="161.8" class="b">LFP/SEO/Li, 90<tspan dy="1.1" style="font-size:13.4px">º</tspan><tspan dy="-1.1">C</tspan></text><text x="58.6" y="230.8" class="b">LFP/SIC/Li, 90<tspan dy="1.1" style="font-size:13.4px">º</tspan><tspan dy="-1.1">C</tspan></text></g>
</svg>
</body></html>
